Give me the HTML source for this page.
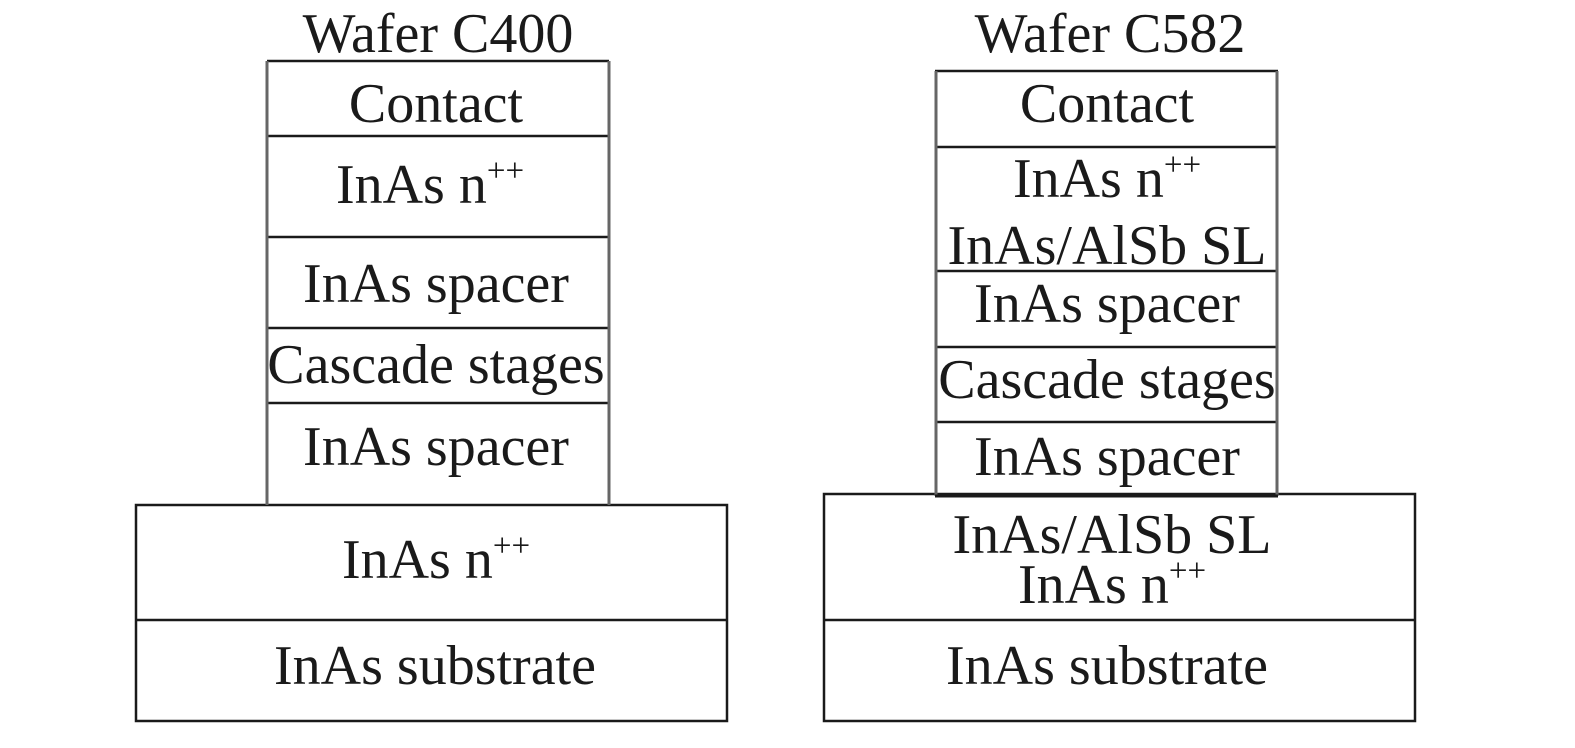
<!DOCTYPE html>
<html><head><style>html,body{margin:0;background:#fff;overflow:hidden;width:1575px;height:748px}svg{display:block}</style></head><body>
<svg width="1575" height="748" viewBox="0 0 1575 748" xmlns="http://www.w3.org/2000/svg" font-family="'Liberation Serif', serif" font-size="56" fill="#1a1a1a" text-anchor="middle">
<g stroke="#1a1a1a" stroke-width="2.5" fill="none">
<line x1="267" y1="61" x2="609" y2="61"/><line x1="267" y1="136" x2="609" y2="136"/><line x1="267" y1="237" x2="609" y2="237"/><line x1="267" y1="328" x2="609" y2="328"/><line x1="267" y1="403" x2="609" y2="403"/>
<rect x="136" y="505" width="591" height="216"/><line x1="136" y1="620" x2="727" y2="620"/>
<line x1="935" y1="71" x2="1278" y2="71"/><line x1="935" y1="147" x2="1278" y2="147"/><line x1="935" y1="271" x2="1278" y2="271"/><line x1="935" y1="347" x2="1278" y2="347"/><line x1="935" y1="422" x2="1278" y2="422"/>
<rect x="824" y="494" width="591" height="227"/><line x1="824" y1="620" x2="1415" y2="620"/>
</g>
<g stroke="#666" stroke-width="3">
<line x1="267" y1="61" x2="267" y2="505"/><line x1="609" y1="61" x2="609" y2="505"/>
<line x1="936" y1="71" x2="936" y2="496"/><line x1="1277" y1="71" x2="1277" y2="496"/>
</g>
<g stroke="#1a1a1a" stroke-width="3"><line x1="935" y1="496" x2="1278" y2="496"/></g>
<g stroke="none">
<text x="438" y="52">Wafer C400</text>
<text x="436" y="122">Contact</text>
<text x="430" y="203">InAs n<tspan font-size="33" dy="-22">++</tspan></text>
<text x="436" y="302">InAs spacer</text>
<text x="436" y="383">Cascade stages</text>
<text x="436" y="465">InAs spacer</text>
<text x="436" y="578">InAs n<tspan font-size="33" dy="-22">++</tspan></text>
<text x="435" y="684">InAs substrate</text>
<text x="1110" y="52">Wafer C582</text>
<text x="1107" y="122">Contact</text>
<text x="1107" y="197">InAs n<tspan font-size="33" dy="-22">++</tspan></text>
<text x="1107" y="264">InAs/AlSb SL</text>
<text x="1107" y="322">InAs spacer</text>
<text x="1107" y="398">Cascade stages</text>
<text x="1107" y="475">InAs spacer</text>
<text x="1112" y="553">InAs/AlSb SL</text>
<text x="1112" y="603">InAs n<tspan font-size="33" dy="-22">++</tspan></text>
<text x="1107" y="684">InAs substrate</text>
</g>
</svg>
</body></html>
